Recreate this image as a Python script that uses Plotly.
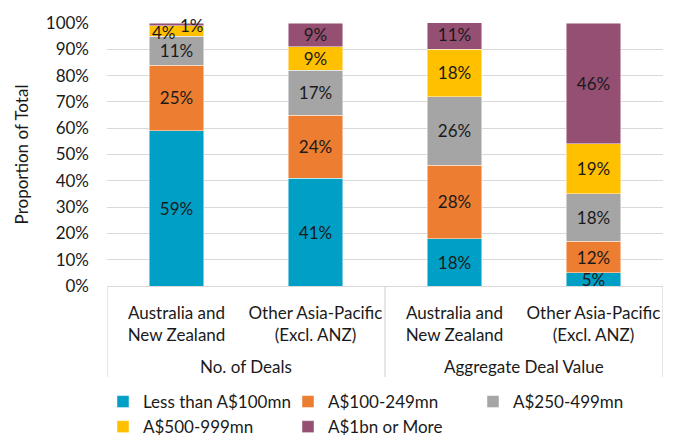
import plotly.graph_objects as go

groups = ["No. of Deals", "Aggregate Deal Value"]
regions = ["Australia and<br>New Zealand", "Other Asia-Pacific<br>(Excl. ANZ)"]
# each group holds the same two regions
bar_groups = [g for g in groups for _ in regions]
bar_labels = [r for _ in groups for r in regions]
bar_pos = list(range(len(bar_labels)))

series_names = ["Less than A$100mn", "A$100-249mn", "A$250-499mn", "A$500-999mn", "A$1bn or More"]
less_100 = [59, 41, 18, 5]
from_100_249 = [25, 24, 28, 12]
from_250_499 = [11, 17, 26, 18]
from_500_999 = [4, 9, 18, 19]
over_1bn = [1, 9, 11, 46]
series_values = [less_100, from_100_249, from_250_499, from_500_999, over_1bn]
colors = ["#00A0C6", "#ED7D31", "#A5A5A5", "#FFC000", "#954F72"]

FONT = "Lato"
TXT = "#1a1a1a"
LINE = "#D9D9D9"

fig = go.Figure()
for name, vals, col in zip(series_names, series_values, colors):
    # thin segments get their labels placed beside the bar instead
    labels = [f"{v}%" if v >= 5 else "" for v in vals]
    fig.add_trace(go.Bar(
        x=bar_pos, y=[v / 100 for v in vals], name=name,
        marker=dict(color=col, line=dict(color="rgba(255,255,255,0.6)", width=0.8)),
        text=labels, textposition="inside", insidetextanchor="middle",
        textfont=dict(color=TXT, size=17, family=FONT),
        hoverinfo="skip",
    ))

# labels for the thin segments at the top of the first bar
base = less_100[0] + from_100_249[0] + from_250_499[0]
fig.add_annotation(x=bar_pos[0], y=(base + from_500_999[0] / 2) / 100, text=f"{from_500_999[0]}%",
                   showarrow=False, xshift=-13, yshift=-2,
                   font=dict(size=17, color=TXT, family=FONT))
fig.add_annotation(x=bar_pos[0], y=(base + from_500_999[0] + over_1bn[0] / 2) / 100,
                   text=f"{over_1bn[0]}%", showarrow=False, xshift=15, yshift=-1,
                   font=dict(size=17, color=TXT, family=FONT))

# group captions and the divider box below the axis
n = len(regions)
for gi, g in enumerate(groups):
    fig.add_annotation(x=gi * n + (n - 1) / 2, y=-0.305, xref="x", yref="paper",
                       text=g, showarrow=False, yanchor="middle",
                       font=dict(size=17, color=TXT, family=FONT))
for k in range(len(groups) + 1):
    xd = k * n - 0.5
    fig.add_shape(type="line", xref="x", yref="paper", x0=xd, x1=xd, y0=0, y1=-0.346,
                  line=dict(color=LINE, width=1.3))

fig.update_layout(
    barmode="stack", bargap=0.605,
    width=677, height=438,
    margin=dict(l=107, r=14, t=20, b=152),
    paper_bgcolor="white", plot_bgcolor="white",
    font=dict(family=FONT, size=17, color=TXT),
    uniformtext=dict(minsize=16, mode="show"),
    legend=dict(orientation="h", xref="container", x=103 / 677, xanchor="left",
                yref="container", y=1 - 384 / 438, yanchor="top",
                entrywidth=140, entrywidthmode="pixels", traceorder="normal",
                font=dict(size=17, family=FONT, color=TXT), itemwidth=30,
                tracegroupgap=0, borderwidth=0, bgcolor="rgba(0,0,0,0)"),
    showlegend=True,
)
fig.update_yaxes(range=[0, 1], tickformat=".0%", dtick=0.1,
                 showgrid=True, gridcolor=LINE, gridwidth=1.3,
                 zeroline=False, ticklabelstandoff=17,
                 tickfont=dict(size=17, family=FONT, color=TXT),
                 title=dict(text="Proportion of Total", font=dict(size=17, family=FONT, color=TXT),
                            standoff=12))
fig.update_xaxes(range=[-0.5, len(bar_pos) - 0.5], tickvals=bar_pos, ticktext=bar_labels,
                 showline=True, linecolor=LINE, linewidth=1.3, tickangle=0,
                 showgrid=False, zeroline=False, ticklabelstandoff=11,
                 tickfont=dict(size=17, family=FONT, color=TXT))

fig.write_html("out.html")
